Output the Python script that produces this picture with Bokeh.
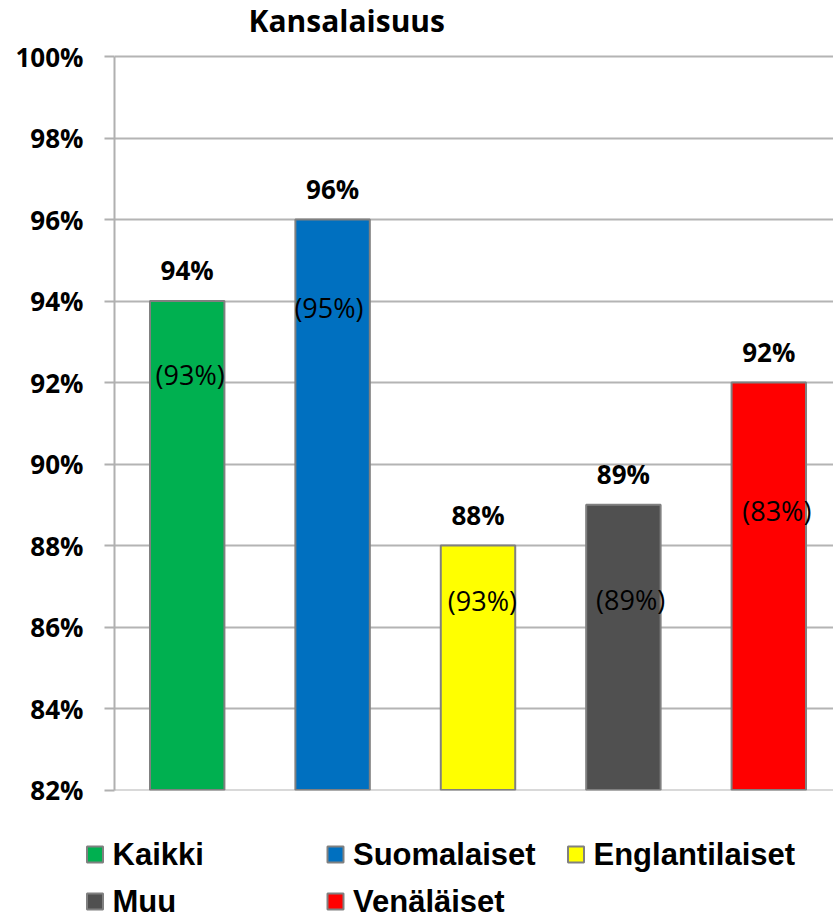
from bokeh.plotting import figure
from bokeh.models import Range1d, FixedTicker, ColumnDataSource, Label
from bokeh.core.properties import value
from bokeh.embed import file_html
from bokeh.resources import INLINE

# ---- data ----
categories = ["Kaikki", "Suomalaiset", "Englantilaiset", "Muu", "Venäläiset"]
values_now = [94, 96, 88, 89, 92]
labels_now = ["94%", "96%", "88%", "89%", "92%"]
labels_prev = ["(93%)", "(95%)", "(93%)", "(89%)", "(83%)"]
colors = ["#00B050", "#0070C0", "#FFFF00", "#505050", "#FF0000"]
y_ticks = [82, 84, 86, 88, 90, 92, 94, 96, 98, 100]
y_tick_labels = ["82%", "84%", "86%", "88%", "90%", "92%", "94%", "96%", "98%", "100%"]
title_text = "Kansalaisuus"

# placement of the "(previous)" labels (y in axis units, x shift in category units)
prev_label_y = [92.2, 93.85, 86.65, 86.68, 88.87]
prev_label_dx = [0.02, -0.025, 0.03, 0.05, 0.055]

# ---- layout constants (screen pixels) ----
W = 833
H_MAIN = 812
H_LEG = 107
FRAME_LEFT = 114
FRAME_BOTTOM = 790
Y_TOP_PX = 56        # where 100% sits
Y_BOT_PX = 789.5     # where 82% sits
ymin, ymax = y_ticks[0], y_ticks[-1]
ppu = (Y_BOT_PX - Y_TOP_PX) / (ymax - ymin)
y_start = ymin - (FRAME_BOTTOM - Y_BOT_PX) / ppu
y_end = ymax + Y_TOP_PX / ppu

idx = list(range(len(categories)))

p = figure(width=W, height=H_MAIN, output_backend="svg", toolbar_location=None,
           x_range=Range1d(-0.5, 4.445), y_range=Range1d(y_start, y_end),
           min_border_left=FRAME_LEFT, min_border_right=0, min_border_top=0,
           min_border_bottom=H_MAIN - FRAME_BOTTOM)
p.outline_line_color = None
p.background_fill_color = "white"
p.border_fill_color = "white"

p.xaxis.visible = False
p.xgrid.visible = False

p.yaxis.bounds = (ymin, ymax)
p.yaxis.ticker = FixedTicker(ticks=y_ticks)
p.yaxis.major_label_overrides = {t: l for t, l in zip(y_ticks, y_tick_labels)}
p.yaxis.major_label_text_font = "Open Sans"
p.yaxis.major_label_text_font_style = "bold"
p.yaxis.major_label_text_font_size = "26px"
p.yaxis.major_label_text_color = "black"
p.yaxis.major_label_standoff = 21
p.yaxis.major_tick_in = 0
p.yaxis.major_tick_out = 10
p.yaxis.minor_tick_line_color = None
p.yaxis.axis_line_color = "#b0b0b0"
p.yaxis.axis_line_width = 2
p.yaxis.major_tick_line_color = "#b0b0b0"
p.yaxis.major_tick_line_width = 2

p.ygrid.ticker = FixedTicker(ticks=y_ticks)
p.ygrid.grid_line_color = "#b4b4b4"
p.ygrid.grid_line_width = 2

# chart title, inside the frame above the 100% line
p.add_layout(Label(x=248 - FRAME_LEFT, y=FRAME_BOTTOM - 20, x_units="screen", y_units="screen",
                   text=title_text, text_font="Open Sans", text_font_style="bold",
                   text_font_size="30px", text_color="black",
                   text_align="left", text_baseline="middle"))

src = ColumnDataSource(dict(
    x=idx, top=values_now, color=colors, lab=labels_now,
    px=[i + d for i, d in zip(idx, prev_label_dx)], py=prev_label_y, plab=labels_prev,
))

p.vbar(x="x", top="top", bottom=ymin, width=0.512, fill_color="color",
       line_color="#808080", line_width=2, source=src)

p.text(x="x", y="top", text="lab", source=src, text_align="center",
       text_baseline="middle", y_offset=-31,
       text_font=value("Open Sans"), text_font_style="bold", text_font_size="26px",
       text_color="black")

p.text(x="px", y="py", text="plab", source=src, text_align="center",
       text_baseline="middle",
       text_font=value("Open Sans"), text_font_style="normal", text_font_size="27px",
       text_color="black")

# ---- legend panel (separate root, pixel coordinates, y pointing down) ----
leg = figure(width=W, height=H_LEG, output_backend="svg", toolbar_location=None,
             x_range=Range1d(0, W), y_range=Range1d(H_LEG, 0),
             min_border_left=0, min_border_right=0, min_border_top=0, min_border_bottom=0)
leg.outline_line_color = None
leg.xaxis.visible = False
leg.yaxis.visible = False
leg.grid.visible = False

col_x0, col_step = 94.5, 240.5
row_y0, row_step = 854 - H_MAIN, 47
sq_x = [col_x0 + (i % 3) * col_step for i in idx]
sq_y = [row_y0 + (i // 3) * row_step for i in idx]
tx = [x + 17.5 for x in sq_x]

lsrc = ColumnDataSource(dict(x=sq_x, y=sq_y, tx=tx, color=colors, name=categories))
leg.rect(x="x", y="y", width=16, height=16, fill_color="color", line_color="#808080",
         line_width=2, source=lsrc)
leg.text(x="tx", y="y", text="name", source=lsrc, text_align="left", text_baseline="middle",
         text_font=value("Liberation Sans"), text_font_style="bold", text_font_size="31px",
         text_color="black")

open("out.html", "w").write(file_html([p, leg], INLINE))
